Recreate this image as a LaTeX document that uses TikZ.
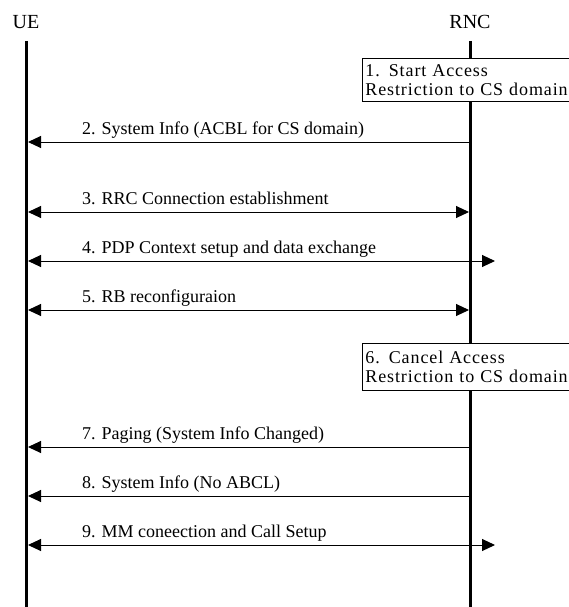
\documentclass[tikz,border=0pt]{standalone}
\usepackage{fontspec}
\setmainfont{Liberation Serif}
\newfontfamily\notefont[LetterSpace=5]{Liberation Serif}
\usetikzlibrary{arrows.meta}
\begin{document}
\begin{tikzpicture}[x=1pt,y=-1pt,
  >={Triangle[length=13pt,width=12pt]},
  life/.style={line width=3pt},
  msg/.style={line width=1pt},
  lbl/.style={anchor=base west,inner sep=0pt,font=\fontsize{18}{19}\selectfont},
  head/.style={font=\fontsize{20}{22}\selectfont},
  note/.style={draw,line width=0.8pt,fill=white,anchor=north west,align=left,
    text width=230pt,inner xsep=3pt,inner ysep=0pt,font=\notefont\fontsize{18}{19}\selectfont}]
  \useasboundingbox (0,0) rectangle (569,607);
  \node[head] (ue) at (26,22) {UE};
  \node[head] (rnc) at (470,22) {RNC};
  \coordinate (ueTop) at (26.5,41);
  \coordinate (ueBot) at (26.5,607);
  \coordinate (rncTop) at (470.5,41);
  \coordinate (rncBot) at (470.5,607);
  \draw[life] (ueTop) -- (ueBot);
  \draw[life] (rncTop) -- (rncBot);
  \node[note,minimum height=43pt] (start) at (362,58)
    {1. Start Access\\Restriction to CS domain};
  \node[note,minimum height=47pt] (cancel) at (362,343)
    {6. Cancel Access\\Restriction to CS domain};
  % messages: number / y / tips / right end / text
  \foreach \n/\y/\tip/\xe/\txt in {
      2/142/<-/469/{2. System Info (ACBL for CS domain)},
      3/212/<->/469/{3. RRC Connection establishment},
      4/261/<->/495/{4. PDP Context setup and data exchange},
      5/310/<->/469/{5. RB reconfiguraion},
      7/447/<-/469/{7. Paging (System Info Changed)},
      8/496/<-/469/{8. System Info (No ABCL)},
      9/545/<->/495/{9. MM coneection and Call Setup}}
  {
    \coordinate (ue\n) at (28,\y);
    \coordinate (rnc\n) at (\xe,\y);
    \draw[msg,\tip] (ue\n) -- (rnc\n);
    \node[lbl] (m\n) at (82,\y-8) {\txt};
  }
\end{tikzpicture}
\end{document}
